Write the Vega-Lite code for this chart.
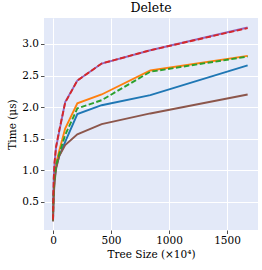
{
  "$schema": "https://vega.github.io/schema/vega-lite/v6.json",
  "width": 214,
  "height": 212,
  "autosize": "none",
  "padding": {"left": 44, "top": 18, "right": 4, "bottom": 40},
  "background": "white",
  "title": {"text": "Delete", "font": "DejaVu Serif", "fontSize": 12.5, "fontWeight": "normal", "color": "#000", "offset": 4},
  "config": {
    "view": {"fill": "#e3e9f8", "stroke": null},
    "axis": {
      "labelFont": "DejaVu Serif", "titleFont": "DejaVu Serif", "labelFontSize": 10.5, "titleFontSize": 10.5,
      "titleFontWeight": "normal", "labelColor": "#000", "titleColor": "#000",
      "domain": false, "grid": true, "gridColor": "white", "gridWidth": 1, "gridOpacity": 1,
      "tickColor": "#222", "tickSize": 3.5, "tickWidth": 0.8
    }
  },
  "data": {"values": [
    {"s":"blue","x":0.4096,"y":0.20},{"s":"blue","x":0.8192,"y":0.27},{"s":"blue","x":1.6384,"y":0.36},{"s":"blue","x":3.2768,"y":0.48},{"s":"blue","x":6.5536,"y":0.64},{"s":"blue","x":13.1072,"y":0.85},{"s":"blue","x":26.2144,"y":1.05},{"s":"blue","x":52.4288,"y":1.22},{"s":"blue","x":104.8576,"y":1.45},{"s":"blue","x":209.7152,"y":1.89},{"s":"blue","x":419.4304,"y":2.03},{"s":"blue","x":838.8608,"y":2.19},{"s":"blue","x":1677.7216,"y":2.66},
    {"s":"orange","x":0.4096,"y":0.21},{"s":"orange","x":0.8192,"y":0.29},{"s":"orange","x":1.6384,"y":0.39},{"s":"orange","x":3.2768,"y":0.52},{"s":"orange","x":6.5536,"y":0.70},{"s":"orange","x":13.1072,"y":0.90},{"s":"orange","x":26.2144,"y":1.10},{"s":"orange","x":52.4288,"y":1.30},{"s":"orange","x":104.8576,"y":1.66},{"s":"orange","x":209.7152,"y":2.06},{"s":"orange","x":419.4304,"y":2.20},{"s":"orange","x":838.8608,"y":2.58},{"s":"orange","x":1677.7216,"y":2.81},
    {"s":"green","x":0.4096,"y":0.21},{"s":"green","x":0.8192,"y":0.28},{"s":"green","x":1.6384,"y":0.38},{"s":"green","x":3.2768,"y":0.51},{"s":"green","x":6.5536,"y":0.68},{"s":"green","x":13.1072,"y":0.88},{"s":"green","x":26.2144,"y":1.08},{"s":"green","x":52.4288,"y":1.25},{"s":"green","x":104.8576,"y":1.56},{"s":"green","x":209.7152,"y":1.98},{"s":"green","x":419.4304,"y":2.11},{"s":"green","x":838.8608,"y":2.56},{"s":"green","x":1677.7216,"y":2.80},
    {"s":"purple","x":0.4096,"y":0.22},{"s":"purple","x":0.8192,"y":0.32},{"s":"purple","x":1.6384,"y":0.45},{"s":"purple","x":3.2768,"y":0.62},{"s":"purple","x":6.5536,"y":0.88},{"s":"purple","x":13.1072,"y":1.12},{"s":"purple","x":26.2144,"y":1.36},{"s":"purple","x":52.4288,"y":1.60},{"s":"purple","x":104.8576,"y":2.08},{"s":"purple","x":209.7152,"y":2.42},{"s":"purple","x":419.4304,"y":2.69},{"s":"purple","x":838.8608,"y":2.90},{"s":"purple","x":1677.7216,"y":3.26},
    {"s":"red","x":0.4096,"y":0.22},{"s":"red","x":0.8192,"y":0.32},{"s":"red","x":1.6384,"y":0.45},{"s":"red","x":3.2768,"y":0.62},{"s":"red","x":6.5536,"y":0.87},{"s":"red","x":13.1072,"y":1.12},{"s":"red","x":26.2144,"y":1.37},{"s":"red","x":52.4288,"y":1.62},{"s":"red","x":104.8576,"y":2.07},{"s":"red","x":209.7152,"y":2.42},{"s":"red","x":419.4304,"y":2.69},{"s":"red","x":838.8608,"y":2.90},{"s":"red","x":1677.7216,"y":3.25},
    {"s":"brown","x":0.4096,"y":0.19},{"s":"brown","x":0.8192,"y":0.25},{"s":"brown","x":1.6384,"y":0.33},{"s":"brown","x":3.2768,"y":0.45},{"s":"brown","x":6.5536,"y":0.60},{"s":"brown","x":13.1072,"y":0.80},{"s":"brown","x":26.2144,"y":1.02},{"s":"brown","x":52.4288,"y":1.22},{"s":"brown","x":104.8576,"y":1.40},{"s":"brown","x":209.7152,"y":1.57},{"s":"brown","x":419.4304,"y":1.73},{"s":"brown","x":838.8608,"y":1.90},{"s":"brown","x":1677.7216,"y":2.20}
  ]},
  "encoding": {
    "x": {"field": "x", "type": "quantitative", "scale": {"domain": [-77.6, 1767], "nice": false, "zero": false},
      "axis": {"values": [0, 500, 1000, 1500], "format": "d", "title": "Tree Size (×10⁴)", "titlePadding": 3, "labelPadding": 2}},
    "y": {"field": "y", "type": "quantitative", "scale": {"domain": [0.056, 3.41], "nice": false, "zero": false},
      "axis": {"values": [0.5, 1.0, 1.5, 2.0, 2.5, 3.0], "format": ".1f", "title": "Time (μs)", "titlePadding": 4, "labelPadding": 2}},
    "color": {"field": "s", "type": "nominal", "legend": null,
      "scale": {"domain": ["blue", "orange", "green", "purple", "red", "brown"],
                "range": ["#1f77b4", "#ff7f0e", "#2ca02c", "#9467bd", "#d62728", "#8c564b"]}}
  },
  "layer": [
    {"transform": [{"filter": "datum.s != 'green' && datum.s != 'red'"}],
     "mark": {"type": "line", "strokeWidth": 1.9, "clip": true}},
    {"transform": [{"filter": "datum.s == 'green' || datum.s == 'red'"}],
     "mark": {"type": "line", "strokeWidth": 1.9, "strokeDash": [5.5, 2.5], "clip": true}}
  ]
}
